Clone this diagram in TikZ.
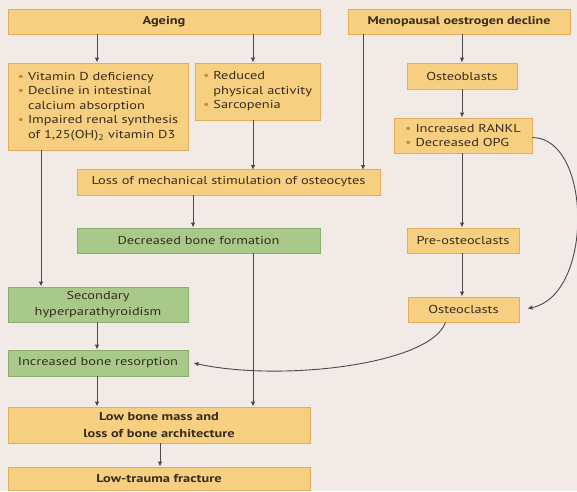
\documentclass[tikz,border=0pt]{standalone}
\usepackage{fontspec}
\setmainfont{PT Sans}[FakeStretch=1.25]
\usetikzlibrary{arrows.meta}
\definecolor{bg}{HTML}{F2EAE6}
\definecolor{ofill}{HTML}{F7CF80}
\definecolor{odraw}{HTML}{E2AE5E}
\definecolor{gfill}{HTML}{A9C98B}
\definecolor{gdraw}{HTML}{8CAD6E}
\definecolor{txt}{HTML}{382C1E}
\definecolor{lin}{HTML}{4A4A4A}
\definecolor{bul}{HTML}{C98A3A}
\newcommand{\bl}{{\color{bul}\textbullet}\ }
\newcommand{\bs}{\hphantom{\textbullet\ }}
\tikzset{
  box/.style={rectangle, line width=0.9pt, inner sep=0pt, align=left, text=txt,
    font=\fontsize{11.5}{16}\selectfont},
  lst/.style={font=\fontsize{11.5}{14.5}\selectfont},
  obox/.style={box, fill=ofill, draw=odraw},
  gbox/.style={box, fill=gfill, draw=gdraw},
  ttl/.style={font=\fontsize{11.5}{17}\selectfont\bfseries, align=center},
  arr/.style={draw=lin, line width=0.9pt, -{Latex[length=5pt,width=4.5pt]}},
}
\begin{document}
\begin{tikzpicture}[x=1pt,y=-1pt]
\fill[bg] (0,0) rectangle (577,491);
\useasboundingbox (0,0) rectangle (577,491);

\node[obox,ttl,minimum width=312pt,minimum height=25pt] (ageing) at (164,21.5) {Ageing};
\node[obox,ttl,font=\fontsize{11.2}{13}\selectfont\bfseries,minimum width=222pt,minimum height=25pt] (meno) at (459,21.5) {Menopausal oestrogen decline};
\node[obox,lst,minimum width=180pt,minimum height=87pt] (vitd) at (98,106.5)
  {\bl Vitamin D deficiency\\ \bl Decline in intestinal\\ \bs calcium absorption\\ \bl Impaired renal synthesis\\ \bs of 1,25(OH)\textsubscript{2} vitamin D3};
\node[obox,lst,minimum width=125pt,minimum height=57pt] (act) at (257.5,91.5)
  {\bl Reduced\\ \bs physical activity\\ \bl Sarcopenia};
\node[obox,minimum width=110pt,minimum height=26pt] (ob) at (462,76) {Osteoblasts};
\node[obox,lst,minimum width=138pt,minimum height=35pt] (rankl) at (463,135.5)
  {\bl Increased RANKL\\ \bl Decreased OPG};
\node[obox,minimum width=303pt,minimum height=26pt] (loss) at (228.5,182) {Loss of mechanical stimulation of osteocytes};
\node[gbox,minimum width=243pt,minimum height=25pt] (dbf) at (198.5,240.5) {Decreased bone formation};
\node[obox,minimum width=112pt,minimum height=25pt] (preo) at (463,240.5) {Pre-osteoclasts};
\node[obox,minimum width=111pt,minimum height=25pt] (oc) at (463.5,309.5) {Osteoclasts};
\node[gbox,align=center,minimum width=180pt,minimum height=35pt] (shpt) at (98,304.5) {Secondary\\hyperparathyroidism};
\node[gbox,minimum width=180pt,minimum height=26pt] (ibr) at (98,363) {Increased bone resorption};
\node[obox,ttl,minimum width=302pt,minimum height=36pt] (lbm) at (159,425) {Low bone mass and\\loss of bone architecture};
\node[obox,ttl,minimum width=302pt,minimum height=23pt] (ltf) at (159,478.5) {Low-trauma fracture};

\coordinate (xa) at (97,0);
\coordinate (xb) at (253,0);
\coordinate (xc) at (363,0);
\coordinate (xd) at (41,0);
\coordinate (xe) at (193,0);
\coordinate (xf) at (160,0);
\coordinate (xg) at (462,0);

\draw[arr] (ageing.south -| xa) -- (vitd.north -| xa);
\draw[arr] (ageing.south -| xb) -- (act.north -| xb);
\draw[arr] (act.south -| xb) -- ([yshift=-1.5pt]loss.north -| xb);
\draw[arr] (meno.south -| xc) -- ([yshift=-1.5pt]loss.north -| xc);
\draw[arr] (meno.south -| xg) -- (ob.north -| xg);
\draw[arr] (ob.south -| xg) -- (rankl.north -| xg);
\draw[arr] (rankl.south -| xg) -- (preo.north -| xg);
\draw[arr] (preo.south -| xg) -- (oc.north -| xg);
\draw[arr] (loss.south -| xe) -- (dbf.north -| xe);
\draw[arr] (vitd.south -| xd) -- (shpt.north -| xd);
\draw[arr] (shpt.south -| xa) -- (ibr.north -| xa);
\draw[arr] (ibr.south -| xa) -- (lbm.north -| xa);
\draw[arr] (dbf.south -| xb) -- (lbm.north -| xb);
\draw[arr] (lbm.south -| xf) -- (ltf.north -| xf);
\draw[arr] ([yshift=-2pt]rankl.east) .. controls (592,138) and (594,295) .. ([xshift=8pt,yshift=1pt]oc.east);
\draw[arr] ([xshift=-18pt]oc.south) .. controls (430,365) and (280,382) .. ([xshift=5pt]ibr.east);
\end{tikzpicture}
\end{document}
